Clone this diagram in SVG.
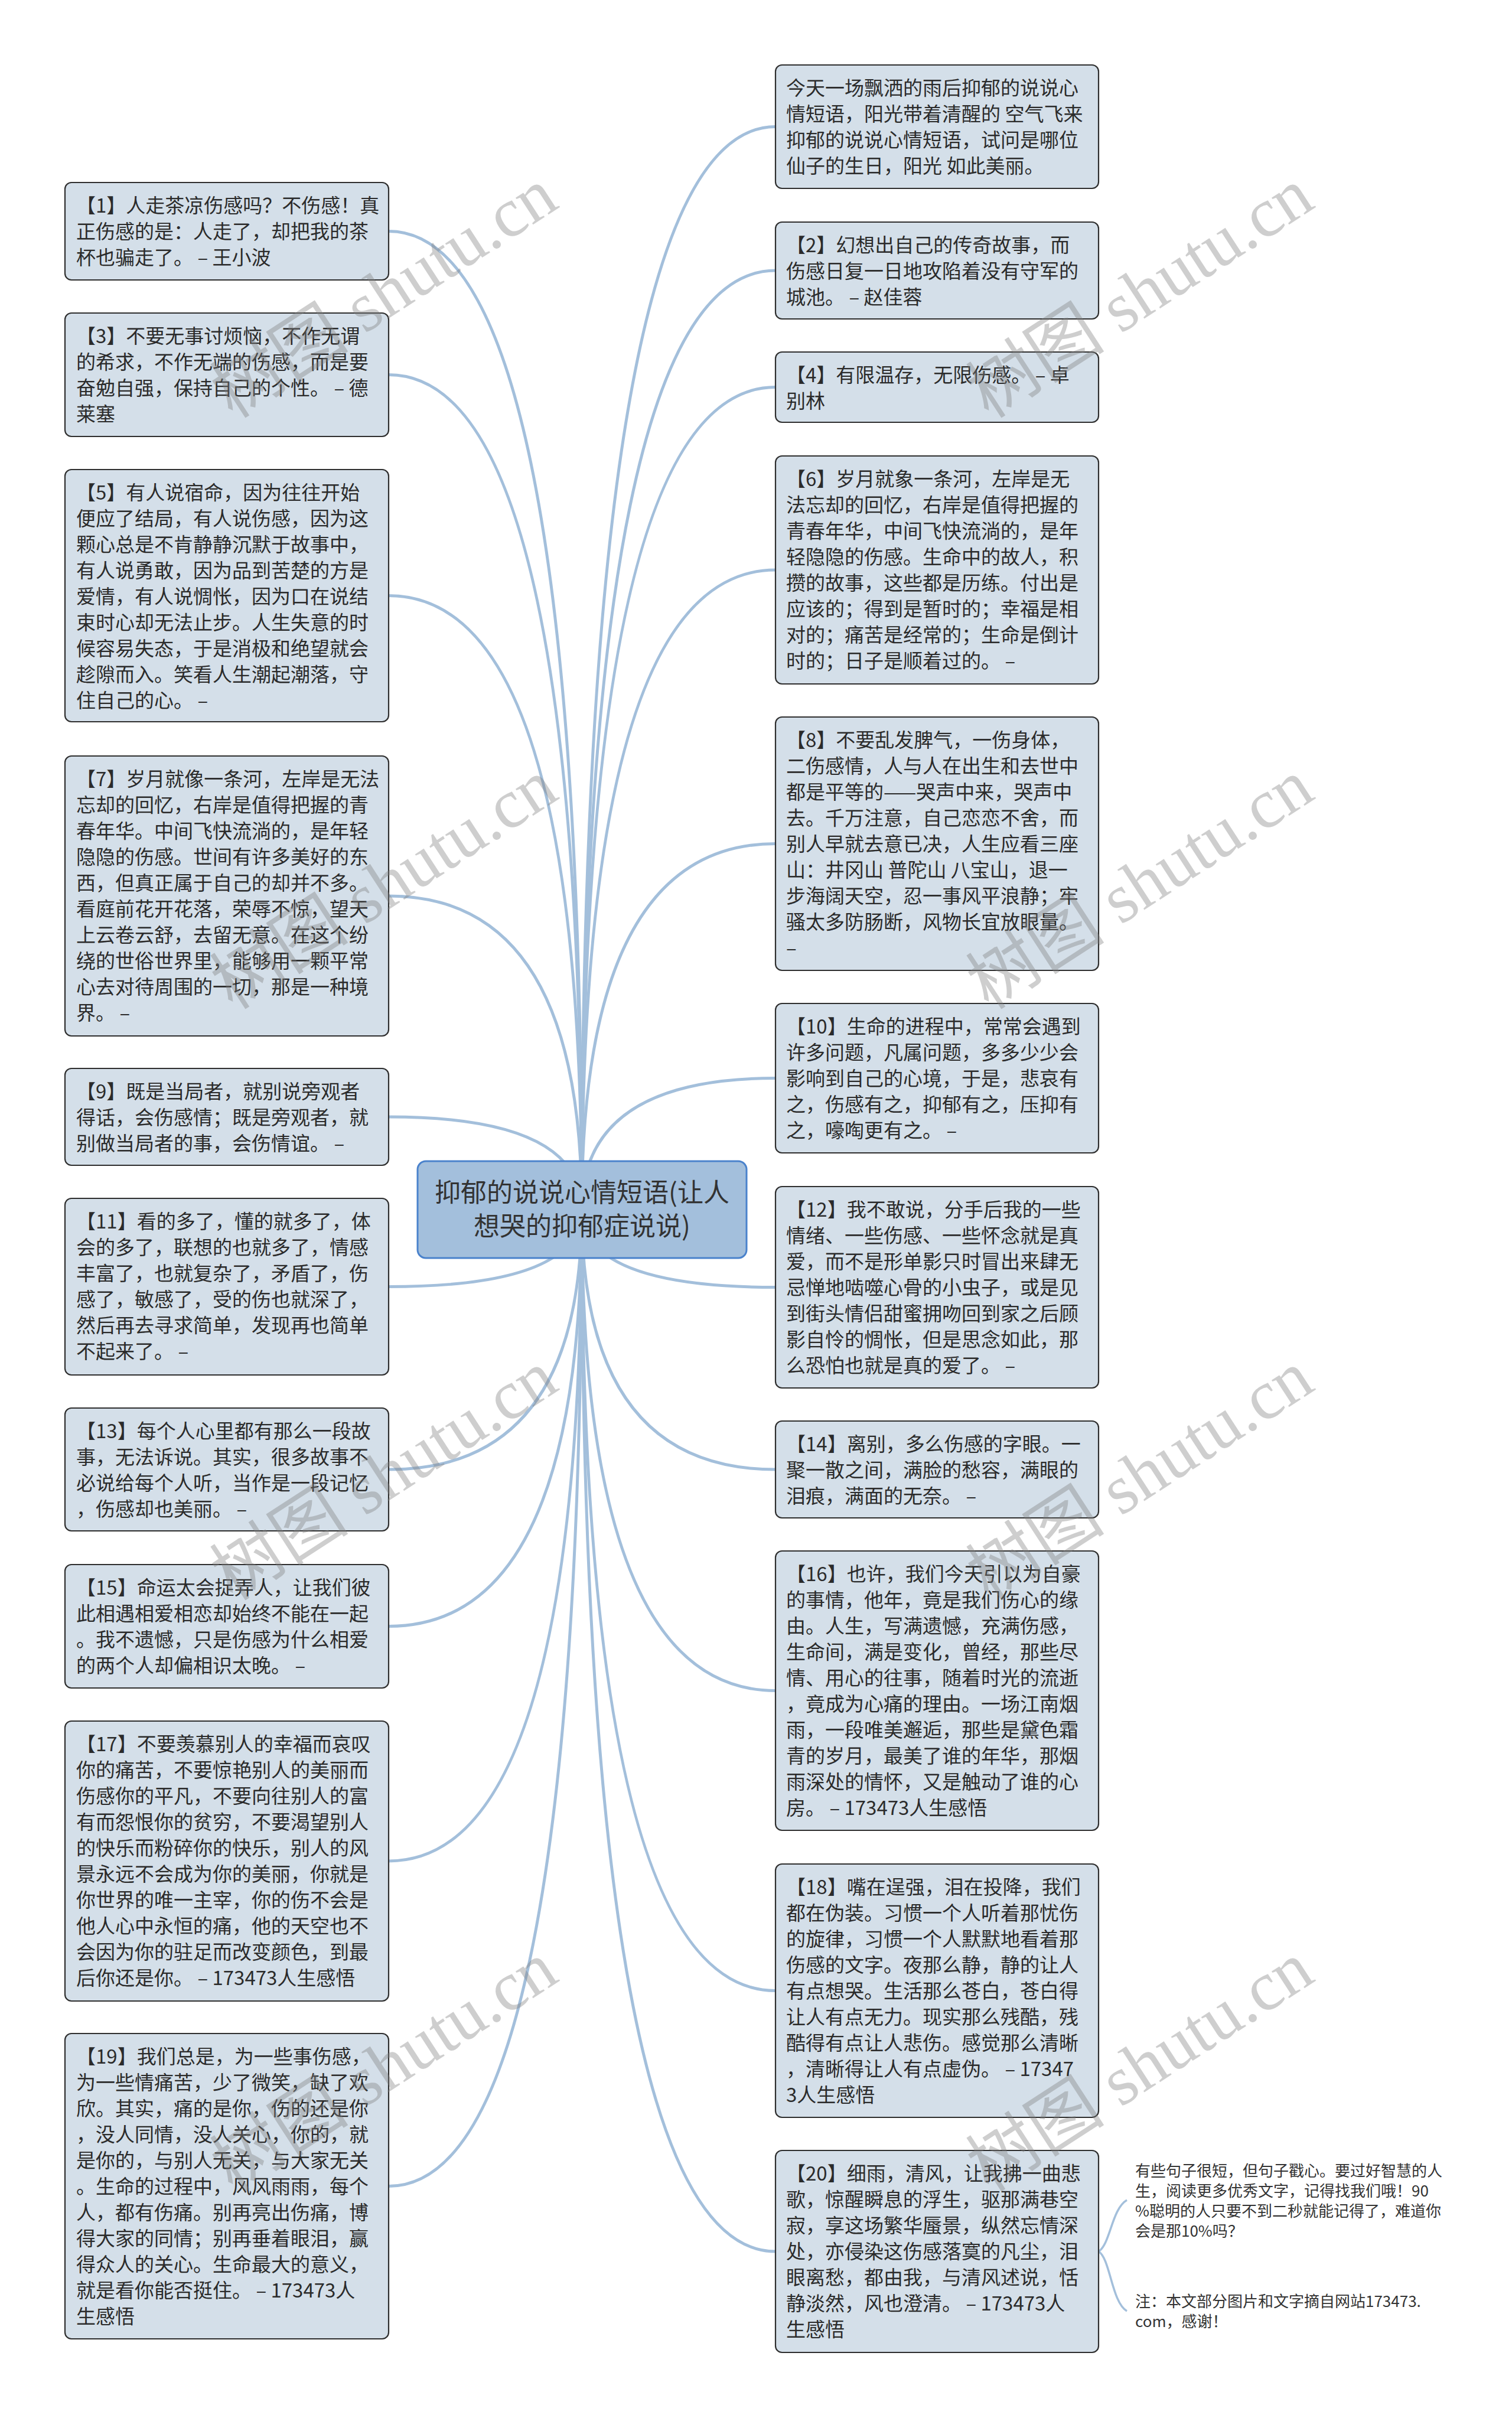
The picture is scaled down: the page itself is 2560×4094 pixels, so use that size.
<svg xmlns="http://www.w3.org/2000/svg" width="2560" height="4094" viewBox="0 0 2560 4094">
<style>
.box{fill:#d4dfe9;stroke:#2e2e2e;stroke-width:2.2}
.root{fill:#a3bfdc;stroke:#4a82cc;stroke-width:3}
.t{font-family:"Noto Sans CJK SC","Noto Sans",sans-serif;font-size:33px;fill:#2b2b2b}
.rt{font-family:"Noto Sans CJK SC","Noto Sans",sans-serif;font-size:44px;fill:#333333;text-anchor:middle}
.n{font-family:"Noto Sans CJK SC","Noto Sans",sans-serif;font-size:26px;fill:#333333}
.c{fill:none;stroke:#a3bfdb;stroke-width:5;stroke-linecap:round}
.b{fill:none;stroke:#a3bfdb;stroke-width:3.5}
.wm{font-family:"Liberation Serif","Noto Sans CJK SC",serif;font-size:118px;fill:#808080;opacity:0.38;text-anchor:middle}
</style>
<rect width="2560" height="4094" fill="#ffffff"/>
<g id="connectors">
<path class="c" d="M985,2048 Q985,391.5 658,391.5"/>
<path class="c" d="M985,2048 Q985,634.5 658,634.5"/>
<path class="c" d="M985,2048 Q985,1008.5 658,1008.5"/>
<path class="c" d="M985,2048 Q985,1517 658,1517"/>
<path class="c" d="M985,2048 Q985,1891 658,1891"/>
<path class="c" d="M985,2048 Q985,2178.5 658,2178.5"/>
<path class="c" d="M985,2048 Q985,2488 658,2488"/>
<path class="c" d="M985,2048 Q985,2753.5 658,2753.5"/>
<path class="c" d="M985,2048 Q985,3151 658,3151"/>
<path class="c" d="M985,2048 Q985,3701.5 658,3701.5"/>
<path class="c" d="M985,2048 Q985,214.5 1313,214.5"/>
<path class="c" d="M985,2048 Q985,458 1313,458"/>
<path class="c" d="M985,2048 Q985,655.5 1313,655.5"/>
<path class="c" d="M985,2048 Q985,965 1313,965"/>
<path class="c" d="M985,2048 Q985,1428.5 1313,1428.5"/>
<path class="c" d="M985,2048 Q985,1825.5 1313,1825.5"/>
<path class="c" d="M985,2048 Q985,2179.5 1313,2179.5"/>
<path class="c" d="M985,2048 Q985,2488 1313,2488"/>
<path class="c" d="M985,2048 Q985,2862.5 1313,2862.5"/>
<path class="c" d="M985,2048 Q985,3370.5 1313,3370.5"/>
<path class="c" d="M985,2048 Q985,3812 1313,3812"/>
<path class="b" d="M1860,3812 C1880,3800 1882,3740 1908,3725"/>
<path class="b" d="M1860,3812 C1880,3824 1882,3898 1908,3913"/>
</g>
<g id="root">
<rect class="root" x="707" y="1966" width="557" height="164" rx="14"/>
<text class="rt"><tspan x="985.5" y="2035">抑郁的说说心情短语(让人</tspan><tspan x="985.5" y="2092">想哭的抑郁症说说)</tspan></text>
</g>
<g id="n1">
<rect class="box" x="110" y="309" width="548" height="165" rx="11"/>
<text class="t"><tspan x="129" y="360">【1】人走茶凉伤感吗？不伤感！真</tspan><tspan x="129" y="404">正伤感的是：人走了，却把我的茶</tspan><tspan x="129" y="448">杯也骗走了。 – 王小波</tspan></text>
</g>
<g id="n3">
<rect class="box" x="110" y="530" width="548" height="209" rx="11"/>
<text class="t"><tspan x="129" y="581">【3】不要无事讨烦恼，不作无谓</tspan><tspan x="129" y="625">的希求，不作无端的伤感，而是要</tspan><tspan x="129" y="669">奋勉自强，保持自己的个性。 – 德</tspan><tspan x="129" y="713">莱塞</tspan></text>
</g>
<g id="n5">
<rect class="box" x="110" y="795" width="548" height="427" rx="11"/>
<text class="t"><tspan x="129" y="846">【5】有人说宿命，因为往往开始</tspan><tspan x="129" y="890">便应了结局，有人说伤感，因为这</tspan><tspan x="129" y="934">颗心总是不肯静静沉默于故事中，</tspan><tspan x="129" y="978">有人说勇敢，因为品到苦楚的方是</tspan><tspan x="129" y="1022">爱情，有人说惆怅，因为口在说结</tspan><tspan x="129" y="1066">束时心却无法止步。人生失意的时</tspan><tspan x="129" y="1110">候容易失态，于是消极和绝望就会</tspan><tspan x="129" y="1154">趁隙而入。笑看人生潮起潮落，守</tspan><tspan x="129" y="1198">住自己的心。 –</tspan></text>
</g>
<g id="n7">
<rect class="box" x="110" y="1280" width="548" height="474" rx="11"/>
<text class="t"><tspan x="129" y="1331">【7】岁月就像一条河，左岸是无法</tspan><tspan x="129" y="1375">忘却的回忆，右岸是值得把握的青</tspan><tspan x="129" y="1419">春年华。中间飞快流淌的，是年轻</tspan><tspan x="129" y="1463">隐隐的伤感。世间有许多美好的东</tspan><tspan x="129" y="1507">西，但真正属于自己的却并不多。</tspan><tspan x="129" y="1551">看庭前花开花落，荣辱不惊，望天</tspan><tspan x="129" y="1595">上云卷云舒，去留无意。在这个纷</tspan><tspan x="129" y="1639">绕的世俗世界里，能够用一颗平常</tspan><tspan x="129" y="1683">心去对待周围的一切，那是一种境</tspan><tspan x="129" y="1727">界。 –</tspan></text>
</g>
<g id="n9">
<rect class="box" x="110" y="1809" width="548" height="164" rx="11"/>
<text class="t"><tspan x="129" y="1860">【9】既是当局者，就别说旁观者</tspan><tspan x="129" y="1904">得话，会伤感情；既是旁观者，就</tspan><tspan x="129" y="1948">别做当局者的事，会伤情谊。 –</tspan></text>
</g>
<g id="n11">
<rect class="box" x="110" y="2029" width="548" height="299" rx="11"/>
<text class="t"><tspan x="129" y="2080">【11】看的多了，懂的就多了，体</tspan><tspan x="129" y="2124">会的多了，联想的也就多了，情感</tspan><tspan x="129" y="2168">丰富了，也就复杂了，矛盾了，伤</tspan><tspan x="129" y="2212">感了，敏感了，受的伤也就深了，</tspan><tspan x="129" y="2256">然后再去寻求简单，发现再也简单</tspan><tspan x="129" y="2300">不起来了。 –</tspan></text>
</g>
<g id="n13">
<rect class="box" x="110" y="2384" width="548" height="208" rx="11"/>
<text class="t"><tspan x="129" y="2435">【13】每个人心里都有那么一段故</tspan><tspan x="129" y="2479">事，无法诉说。其实，很多故事不</tspan><tspan x="129" y="2523">必说给每个人听，当作是一段记忆</tspan><tspan x="129" y="2567">，伤感却也美丽。 –</tspan></text>
</g>
<g id="n15">
<rect class="box" x="110" y="2649" width="548" height="209" rx="11"/>
<text class="t"><tspan x="129" y="2700">【15】命运太会捉弄人，让我们彼</tspan><tspan x="129" y="2744">此相遇相爱相恋却始终不能在一起</tspan><tspan x="129" y="2788">。我不遗憾，只是伤感为什么相爱</tspan><tspan x="129" y="2832">的两个人却偏相识太晚。 –</tspan></text>
</g>
<g id="n17">
<rect class="box" x="110" y="2914" width="548" height="474" rx="11"/>
<text class="t"><tspan x="129" y="2965">【17】不要羡慕别人的幸福而哀叹</tspan><tspan x="129" y="3009">你的痛苦，不要惊艳别人的美丽而</tspan><tspan x="129" y="3053">伤感你的平凡，不要向往别人的富</tspan><tspan x="129" y="3097">有而怨恨你的贫穷，不要渴望别人</tspan><tspan x="129" y="3141">的快乐而粉碎你的快乐，别人的风</tspan><tspan x="129" y="3185">景永远不会成为你的美丽，你就是</tspan><tspan x="129" y="3229">你世界的唯一主宰，你的伤不会是</tspan><tspan x="129" y="3273">他人心中永恒的痛，他的天空也不</tspan><tspan x="129" y="3317">会因为你的驻足而改变颜色，到最</tspan><tspan x="129" y="3361">后你还是你。 – 173473人生感悟</tspan></text>
</g>
<g id="n19">
<rect class="box" x="110" y="3443" width="548" height="517" rx="11"/>
<text class="t"><tspan x="129" y="3494">【19】我们总是，为一些事伤感，</tspan><tspan x="129" y="3538">为一些情痛苦，少了微笑，缺了欢</tspan><tspan x="129" y="3582">欣。其实，痛的是你，伤的还是你</tspan><tspan x="129" y="3626">，没人同情，没人关心，你的，就</tspan><tspan x="129" y="3670">是你的，与别人无关，与大家无关</tspan><tspan x="129" y="3714">。生命的过程中，风风雨雨，每个</tspan><tspan x="129" y="3758">人，都有伤痛。别再亮出伤痛，博</tspan><tspan x="129" y="3802">得大家的同情；别再垂着眼泪，赢</tspan><tspan x="129" y="3846">得众人的关心。生命最大的意义，</tspan><tspan x="129" y="3890">就是看你能否挺住。 – 173473人</tspan><tspan x="129" y="3934">生感悟</tspan></text>
</g>
<g id="n0">
<rect class="box" x="1313" y="110" width="547" height="209" rx="11"/>
<text class="t"><tspan x="1331" y="161">今天一场飘洒的雨后抑郁的说说心</tspan><tspan x="1331" y="205">情短语，阳光带着清醒的 空气飞来</tspan><tspan x="1331" y="249">抑郁的说说心情短语，试问是哪位</tspan><tspan x="1331" y="293">仙子的生日，阳光 如此美丽。</tspan></text>
</g>
<g id="n2">
<rect class="box" x="1313" y="376" width="547" height="164" rx="11"/>
<text class="t"><tspan x="1331" y="427">【2】幻想出自己的传奇故事，而</tspan><tspan x="1331" y="471">伤感日复一日地攻陷着没有守军的</tspan><tspan x="1331" y="515">城池。 – 赵佳蓉</tspan></text>
</g>
<g id="n4">
<rect class="box" x="1313" y="596" width="547" height="119" rx="11"/>
<text class="t"><tspan x="1331" y="647">【4】有限温存，无限伤感。 – 卓</tspan><tspan x="1331" y="691">别林</tspan></text>
</g>
<g id="n6">
<rect class="box" x="1313" y="772" width="547" height="386" rx="11"/>
<text class="t"><tspan x="1331" y="823">【6】岁月就象一条河，左岸是无</tspan><tspan x="1331" y="867">法忘却的回忆，右岸是值得把握的</tspan><tspan x="1331" y="911">青春年华，中间飞快流淌的，是年</tspan><tspan x="1331" y="955">轻隐隐的伤感。生命中的故人，积</tspan><tspan x="1331" y="999">攒的故事，这些都是历练。付出是</tspan><tspan x="1331" y="1043">应该的；得到是暂时的；幸福是相</tspan><tspan x="1331" y="1087">对的；痛苦是经常的；生命是倒计</tspan><tspan x="1331" y="1131">时的；日子是顺着过的。 –</tspan></text>
</g>
<g id="n8">
<rect class="box" x="1313" y="1214" width="547" height="429" rx="11"/>
<text class="t"><tspan x="1331" y="1265">【8】不要乱发脾气，一伤身体，</tspan><tspan x="1331" y="1309">二伤感情，人与人在出生和去世中</tspan><tspan x="1331" y="1353">都是平等的——哭声中来，哭声中</tspan><tspan x="1331" y="1397">去。千万注意，自己恋恋不舍，而</tspan><tspan x="1331" y="1441">别人早就去意已决，人生应看三座</tspan><tspan x="1331" y="1485">山：井冈山 普陀山 八宝山，退一</tspan><tspan x="1331" y="1529">步海阔天空，忍一事风平浪静；牢</tspan><tspan x="1331" y="1573">骚太多防肠断，风物长宜放眼量。</tspan><tspan x="1331" y="1617">–</tspan></text>
</g>
<g id="n10">
<rect class="box" x="1313" y="1699" width="547" height="253" rx="11"/>
<text class="t"><tspan x="1331" y="1750">【10】生命的进程中，常常会遇到</tspan><tspan x="1331" y="1794">许多问题，凡属问题，多多少少会</tspan><tspan x="1331" y="1838">影响到自己的心境，于是，悲哀有</tspan><tspan x="1331" y="1882">之，伤感有之，抑郁有之，压抑有</tspan><tspan x="1331" y="1926">之，嚎啕更有之。 –</tspan></text>
</g>
<g id="n12">
<rect class="box" x="1313" y="2009" width="547" height="341" rx="11"/>
<text class="t"><tspan x="1331" y="2060">【12】我不敢说，分手后我的一些</tspan><tspan x="1331" y="2104">情绪、一些伤感、一些怀念就是真</tspan><tspan x="1331" y="2148">爱，而不是形单影只时冒出来肆无</tspan><tspan x="1331" y="2192">忌惮地啮噬心骨的小虫子，或是见</tspan><tspan x="1331" y="2236">到街头情侣甜蜜拥吻回到家之后顾</tspan><tspan x="1331" y="2280">影自怜的惆怅，但是思念如此，那</tspan><tspan x="1331" y="2324">么恐怕也就是真的爱了。 –</tspan></text>
</g>
<g id="n14">
<rect class="box" x="1313" y="2406" width="547" height="164" rx="11"/>
<text class="t"><tspan x="1331" y="2457">【14】离别，多么伤感的字眼。一</tspan><tspan x="1331" y="2501">聚一散之间，满脸的愁容，满眼的</tspan><tspan x="1331" y="2545">泪痕，满面的无奈。 –</tspan></text>
</g>
<g id="n16">
<rect class="box" x="1313" y="2626" width="547" height="473" rx="11"/>
<text class="t"><tspan x="1331" y="2677">【16】也许，我们今天引以为自豪</tspan><tspan x="1331" y="2721">的事情，他年，竟是我们伤心的缘</tspan><tspan x="1331" y="2765">由。人生，写满遗憾，充满伤感，</tspan><tspan x="1331" y="2809">生命间，满是变化，曾经，那些尽</tspan><tspan x="1331" y="2853">情、用心的往事，随着时光的流逝</tspan><tspan x="1331" y="2897">，竟成为心痛的理由。一场江南烟</tspan><tspan x="1331" y="2941">雨，一段唯美邂逅，那些是黛色霜</tspan><tspan x="1331" y="2985">青的岁月，最美了谁的年华，那烟</tspan><tspan x="1331" y="3029">雨深处的情怀，又是触动了谁的心</tspan><tspan x="1331" y="3073">房。 – 173473人生感悟</tspan></text>
</g>
<g id="n18">
<rect class="box" x="1313" y="3156" width="547" height="429" rx="11"/>
<text class="t"><tspan x="1331" y="3207">【18】嘴在逞强，泪在投降，我们</tspan><tspan x="1331" y="3251">都在伪装。习惯一个人听着那忧伤</tspan><tspan x="1331" y="3295">的旋律，习惯一个人默默地看着那</tspan><tspan x="1331" y="3339">伤感的文字。夜那么静，静的让人</tspan><tspan x="1331" y="3383">有点想哭。生活那么苍白，苍白得</tspan><tspan x="1331" y="3427">让人有点无力。现实那么残酷，残</tspan><tspan x="1331" y="3471">酷得有点让人悲伤。感觉那么清晰</tspan><tspan x="1331" y="3515">，清晰得让人有点虚伪。 – 17347</tspan><tspan x="1331" y="3559">3人生感悟</tspan></text>
</g>
<g id="n20">
<rect class="box" x="1313" y="3641" width="547" height="342" rx="11"/>
<text class="t"><tspan x="1331" y="3692">【20】细雨，清风，让我拂一曲悲</tspan><tspan x="1331" y="3736">歌，惊醒瞬息的浮生，驱那满巷空</tspan><tspan x="1331" y="3780">寂，享这场繁华蜃景，纵然忘情深</tspan><tspan x="1331" y="3824">处，亦侵染这伤感落寞的凡尘，泪</tspan><tspan x="1331" y="3868">眼离愁，都由我，与清风述说，恬</tspan><tspan x="1331" y="3912">静淡然，风也澄清。 – 173473人</tspan><tspan x="1331" y="3956">生感悟</tspan></text>
</g>
<g id="note1">
<text class="n"><tspan x="1922" y="3685">有些句子很短，但句子戳心。要过好智慧的人</tspan><tspan x="1922" y="3719">生，阅读更多优秀文字，记得找我们哦！90</tspan><tspan x="1922" y="3753">%聪明的人只要不到二秒就能记得了，难道你</tspan><tspan x="1922" y="3787">会是那10%吗？</tspan></text>
</g>
<g id="note2">
<text class="n"><tspan x="1922" y="3906">注：本文部分图片和文字摘自网站173473.</tspan><tspan x="1922" y="3940">com，感谢！</tspan></text>
</g>
<g id="watermarks">
<text class="wm" transform="translate(672,530) rotate(-33)">树图 shutu.cn</text>
<text class="wm" transform="translate(1952,530) rotate(-33)">树图 shutu.cn</text>
<text class="wm" transform="translate(672,1531) rotate(-33)">树图 shutu.cn</text>
<text class="wm" transform="translate(1952,1531) rotate(-33)">树图 shutu.cn</text>
<text class="wm" transform="translate(672,2532) rotate(-33)">树图 shutu.cn</text>
<text class="wm" transform="translate(1952,2532) rotate(-33)">树图 shutu.cn</text>
<text class="wm" transform="translate(672,3533) rotate(-33)">树图 shutu.cn</text>
<text class="wm" transform="translate(1952,3533) rotate(-33)">树图 shutu.cn</text>
</g>
</svg>
